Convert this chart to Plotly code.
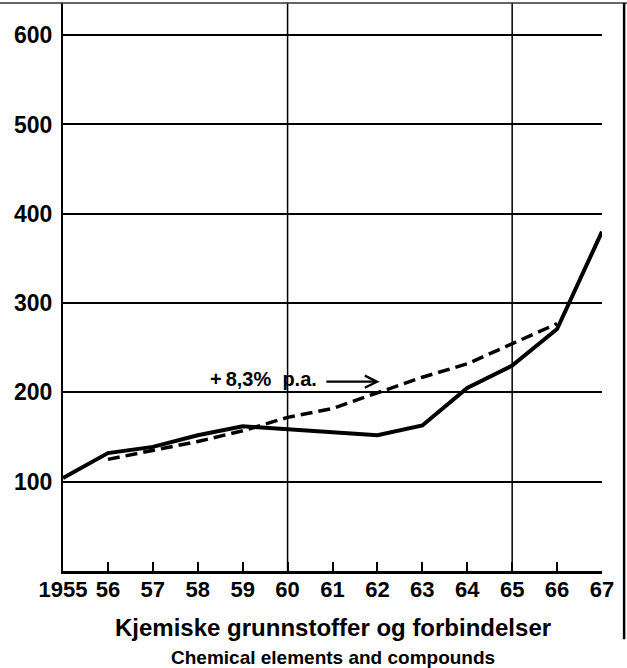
import plotly.graph_objects as go

years = list(range(1955, 1968))
year_labels = ["1955", "56", "57", "58", "59", "60", "61", "62", "63", "64", "65", "66", "67"]
actual = [104, 132, 139, 152, 162, 159, 155, 152, 163, 205, 230, 271, 380]
trend_years = list(range(1956, 1967))
trend = [125, 135, 145, 157, 172, 182, 200, 217, 232, 255, 277]
y_ticks = [100, 200, 300, 400, 500, 600]
v_grid_years = [1960, 1965]
label_text = "+&#8201;8,3%&nbsp;&nbsp;p.a."
title_no = "Kjemiske grunnstoffer og forbindelser"
title_en = "Chemical elements and compounds"

FONT = "Liberation Sans, Arial, sans-serif"

fig = go.Figure()
fig.add_trace(go.Scatter(x=trend_years, y=trend, mode="lines",
                         line=dict(color="black", width=3.5, dash="12px,6px"),
                         showlegend=False, hoverinfo="skip"))
fig.add_trace(go.Scatter(x=years, y=actual, mode="lines",
                         line=dict(color="black", width=4),
                         showlegend=False, hoverinfo="skip"))

for yv in v_grid_years:
    fig.add_shape(type="line", xref="x", yref="paper", x0=yv, x1=yv, y0=0, y1=1,
                  line=dict(color="black", width=1.5), layer="below")

# frame (top and right border)
fig.add_shape(type="line", xref="paper", yref="paper", x0=-0.12, x1=1.05, y0=1.0, y1=1.0,
              line=dict(color="#333", width=1.5))
fig.add_shape(type="line", xref="paper", yref="paper", x0=1.041, x1=1.041, y0=1.0, y1=-0.12,
              line=dict(color="black", width=2.5))

# annotation text and arrow
fig.add_annotation(x=1960.70, y=215, xref="x", yref="y", text=label_text, showarrow=False,
                   xanchor="right", yanchor="middle",
                   font=dict(family=FONT, size=20, color="black", weight="bold"))
fig.add_annotation(x=1962.05, y=212, ax=1960.83, ay=212, xref="x", yref="y",
                   axref="x", ayref="y", text="", showarrow=True,
                   arrowhead=5, arrowsize=1.0, arrowwidth=2.4, arrowcolor="black")

# titles
fig.add_annotation(x=0.5, y=-0.0986, xref="paper", yref="paper", text=title_no, showarrow=False,
                   xanchor="center", yanchor="middle",
                   font=dict(family=FONT, size=24, color="black", weight="bold"))
fig.add_annotation(x=0.5, y=-0.153, xref="paper", yref="paper", text=title_en, showarrow=False,
                   xanchor="center", yanchor="middle",
                   font=dict(family=FONT, size=19, color="black", weight="bold"))

fig.update_layout(
    width=627, height=668,
    margin=dict(l=63, r=25, t=3, b=97),
    paper_bgcolor="white", plot_bgcolor="white",
    xaxis=dict(range=[1955, 1967], tickvals=years, ticktext=year_labels,
               ticks="inside", ticklen=9, tickwidth=2, tickcolor="black",
               showgrid=False, zeroline=False, showline=True, linecolor="black", linewidth=2.5,
               ticklabelstandoff=-3,
               tickfont=dict(family=FONT, size=22, color="black", weight="bold")),
    yaxis=dict(range=[0, 636], tickvals=y_ticks, ticks="", showgrid=True,
               gridcolor="black", gridwidth=1.5, zeroline=False,
               showline=True, linecolor="black", linewidth=2,
               ticklabelstandoff=4,
               tickfont=dict(family=FONT, size=23, color="black", weight="bold")),
)

fig.write_html("out.html", config={"displayModeBar": False},
               post_script="document.body.style.margin='0';")
